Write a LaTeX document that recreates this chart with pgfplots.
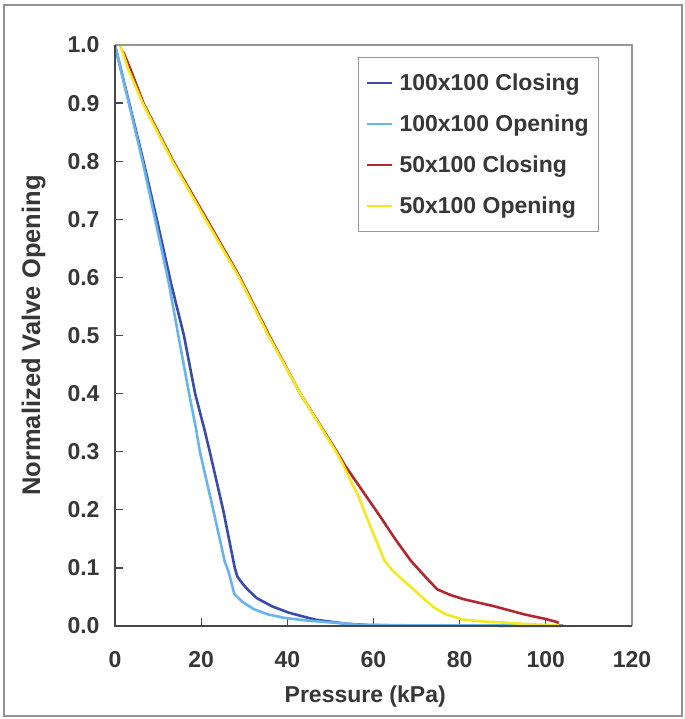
\documentclass[border=0pt]{standalone}
\usepackage{fontspec}
\setmainfont{Liberation Sans}
\usepackage{pgfplots}
\pgfplotsset{compat=1.18}
\definecolor{cdark}{RGB}{58,76,168}
\definecolor{clight}{RGB}{105,180,240}
\definecolor{cred}{RGB}{178,40,48}
\definecolor{cyellow}{RGB}{245,232,30}
\definecolor{txt}{RGB}{55,55,55}
\definecolor{axdark}{RGB}{70,70,70}
\definecolor{axlight}{RGB}{150,150,150}
\begin{document}
\begin{tikzpicture}
\useasboundingbox (-115bp,-93bp) rectangle (570bp,626bp);
\fill[white] (-115bp,-93bp) rectangle (570bp,626bp);
\draw[draw=gray!85, line width=1.6bp] (-111bp,-90bp) rectangle (567bp,621bp);
\begin{axis}[
  at={(0,0)}, anchor=south west,
  scale only axis, width=517bp, height=581bp,
  xmin=0, xmax=120, ymin=0, ymax=1,
  clip=false,
  xtick={0,20,40,60,80,100,120},
  ytick={0,0.1,0.2,0.3,0.4,0.5,0.6,0.7,0.8,0.9,1.0},
  yticklabel style={/pgf/number format/fixed, /pgf/number format/fixed zerofill, /pgf/number format/precision=1, xshift=-12bp},
  /pgf/number format/assume math mode=true,
  tick align=inside, xtick pos=bottom, ytick pos=left,
  major tick length=8bp,
  tick style={line width=1.3bp, color=axdark},
  axis line style={draw=none},
  ticklabel style={font=\fontsize{23bp}{27bp}\selectfont\bfseries, text=txt},
  xticklabel style={yshift=-22bp},
  xlabel={Pressure (kPa)},
  ylabel={Normalized Valve Opening},
  xlabel style={font=\fontsize{23bp}{27bp}\selectfont\bfseries, text=txt, at={(axis description cs:0.484,-0.1325)}, anchor=base},
  ylabel style={font=\fontsize{25.5bp}{29bp}\selectfont\bfseries, text=txt, at={(axis description cs:-0.145,0.5)}, anchor=base},
  legend style={at={(axis description cs:0.470,0.979)}, anchor=north west,
    draw=axlight, line width=1bp, fill=white,
    font=\fontsize{23bp}{27bp}\selectfont\bfseries, text=txt,
    row sep=19bp, inner xsep=8bp, inner ysep=14bp},
  legend cell align=left,
  legend image code/.code={\draw[#1, line width=1.5bp] (0bp,0bp) -- (25bp,0bp); \path (29bp,0bp);},
]
\addplot[cdark, line width=2.6bp] coordinates {
(0,1.0)(0.3,0.99)(3.3,0.9)(6.6,0.8)(10.0,0.69)(13,0.59)(16.0,0.5)(18.6,0.4)(20.7,0.34)(22.0,0.3)(25.1,0.2)(27.8,0.1)(28.4,0.085)(29.4,0.075)(30.5,0.065)(32.9,0.048)(36.4,0.034)(40.3,0.023)(46.4,0.011)(53.5,0.004)(59,0.0015)(70,0.0008)(90,0.0005)(104,0.0005)
};
\addlegendentry{100x100 Closing}
\addplot[clight, line width=2.6bp] coordinates {
(0,1.0)(3.2,0.9)(6.4,0.8)(9.6,0.69)(12.5,0.59)(14.7,0.5)(17.2,0.4)(18.8,0.34)(19.7,0.3)(22.8,0.2)(25.5,0.11)(26.3,0.095)(27.7,0.055)(29.5,0.042)(32.2,0.029)(35.5,0.02)(39.3,0.014)(45,0.009)(50.4,0.006)(57,0.002)(70,0.001)(103,0.001)
};
\addlegendentry{100x100 Opening}
\addplot[cred, line width=2.6bp] coordinates {
(1.8,0.99)(3.5,0.96)(6.6,0.9)(13.5,0.8)(21.3,0.7)(29.0,0.6)(35.8,0.5)(43,0.4)(51.5,0.3)(53.5,0.275)(56.2,0.246)(61.6,0.188)(65,0.15)(68.7,0.112)(72,0.085)(74.8,0.063)(78,0.053)(81,0.046)(88,0.034)(95,0.02)(100,0.012)(102.5,0.007)(103,0.005)
};
\addlegendentry{50x100 Closing}
\addplot[cyellow, line width=2.6bp] coordinates {
(1.2,1.0)(3,0.96)(6.4,0.9)(13.3,0.8)(21.0,0.7)(28.8,0.6)(35.6,0.5)(43,0.4)(51.3,0.3)(53,0.277)(55,0.245)(56.2,0.229)(59.3,0.171)(62.6,0.112)(64.5,0.095)(66.7,0.08)(69,0.065)(71.8,0.046)(74,0.032)(76.8,0.02)(80.9,0.011)(85,0.008)(90,0.006)(96,0.003)(103,0.001)
};
\addlegendentry{50x100 Opening}
\draw[axlight, line width=1.2bp] (rel axis cs:0,1) -- (rel axis cs:1,1) -- (rel axis cs:1,0);
\draw[axdark, line width=1.6bp] (rel axis cs:0,1) -- (rel axis cs:0,0) -- (rel axis cs:1,0);
\end{axis}
\end{tikzpicture}
\end{document}
